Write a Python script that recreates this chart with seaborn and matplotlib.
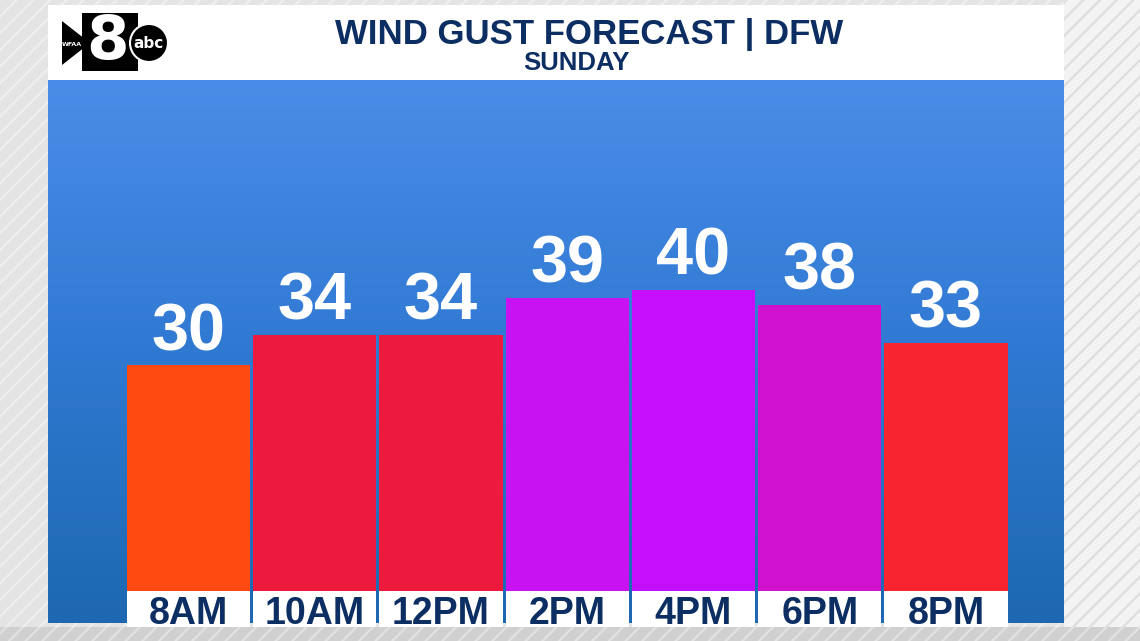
import numpy as np
import matplotlib.pyplot as plt
import matplotlib.patches as mpatches
from matplotlib.colors import LinearSegmentedColormap
import seaborn as sns

times = ['8AM', '10AM', '12PM', '2PM', '4PM', '6PM', '8PM']
gusts = [30, 34, 34, 39, 40, 38, 33]
bar_colors = ['#FF4A12', '#EE1A3D', '#EE1A3D', '#C812F2', '#C50EFB', '#D012CF', '#F8242F']
title = 'WIND GUST FORECAST | DFW'
subtitle = 'SUNDAY'

NAVY = '#0C2E63'
W, H = 1140, 641

sns.set_theme(style='white')
plt.rcParams['hatch.linewidth'] = 1.6

fig = plt.figure(figsize=(W / 100, H / 100), dpi=100)

# background layer in pixel coords
bg = fig.add_axes([0, 0, 1, 1], zorder=0)
bg.set_xlim(0, W)
bg.set_ylim(H, 0)
bg.axis('off')

bg.add_patch(mpatches.Rectangle((0, 0), W, H, facecolor='#E4E4E4', edgecolor='#EEEEEE',
                                hatch='//', lw=0))
bg.add_patch(mpatches.Rectangle((1064, 0), W - 1064, 627, facecolor='#F3F3F3', edgecolor='#DEDEDE',
                                hatch='//', lw=0))
bg.add_patch(mpatches.Rectangle((0, 627), W, H - 627, facecolor='#D0D0D0', edgecolor='#E2E2E2',
                                hatch='//', lw=0))

# header and gradient panel
bg.add_patch(mpatches.Rectangle((48, 5), 1016, 75, facecolor='white', lw=0))
grad = LinearSegmentedColormap.from_list('panel', ['#4A8DE8', '#3079D2', '#1D68B0'])
bg.imshow(np.linspace(0, 1, 256).reshape(-1, 1), cmap=grad, aspect='auto',
          extent=(48, 1064, 623, 80), zorder=1)

bg.text(589, 44, title, ha='center', va='baseline', color=NAVY, fontsize=25,
        fontweight='bold', family='Liberation Sans')
bg.text(576, 70, subtitle, ha='center', va='baseline', color=NAVY, fontsize=18.5,
        fontweight='bold', family='Liberation Sans')

# logo
bg.add_patch(mpatches.Polygon([(62, 21), (90, 43), (62, 65)], closed=True, facecolor='black', lw=0, zorder=2))
bg.text(72, 44, 'WFAA', color='white', fontsize=4.5, ha='center', va='center',
        fontweight='bold', zorder=3)
bg.add_patch(mpatches.Rectangle((82, 13), 56, 58, facecolor='black', lw=0, zorder=2))
bg.text(108, 43, '8', color='white', fontsize=44, ha='center', va='center',
        fontweight='bold', family='DejaVu Sans', zorder=3)
bg.add_patch(mpatches.Circle((149, 43), 19, facecolor='black', edgecolor='white', lw=1.5, zorder=4))
bg.text(149, 44, 'abc', color='white', fontsize=11, ha='center', va='center',
        fontweight='bold', zorder=5)

# bar chart
px_per_unit = 7.52
ax = fig.add_axes([48 / W, (H - 591) / H, 1016 / W, 511 / H], zorder=2)
ax.patch.set_alpha(0)
sns.barplot(x=times, y=gusts, hue=times, palette=bar_colors, legend=False,
            width=0.975, saturation=1, linewidth=0, ax=ax)
ax.set_xlim(-1.113, 6.935)
ax.set_ylim(0, 511 / px_per_unit)

for c in ax.containers:
    ax.bar_label(c, fmt='%d', padding=1, color='white', fontsize=48,
                 fontweight='bold', family='Liberation Sans')

# white label boxes under the bars
box_h = 36 / px_per_unit
ax.bar(range(len(times)), box_h, bottom=-box_h, width=0.975, color='white',
       lw=0, clip_on=False, zorder=1)
ax.set_axisbelow(False)
ax.set_xticks(range(len(times)), times)
ax.tick_params(axis='x', length=0, pad=3.5, colors=NAVY, labelsize=27)
for lab in ax.get_xticklabels():
    lab.set_fontweight('bold')
    lab.set_family('Liberation Sans')
ax.set_yticks([])
ax.set_xlabel('')
ax.set_ylabel('')
for s in ax.spines.values():
    s.set_visible(False)

fig.savefig('out.png', dpi=100)
